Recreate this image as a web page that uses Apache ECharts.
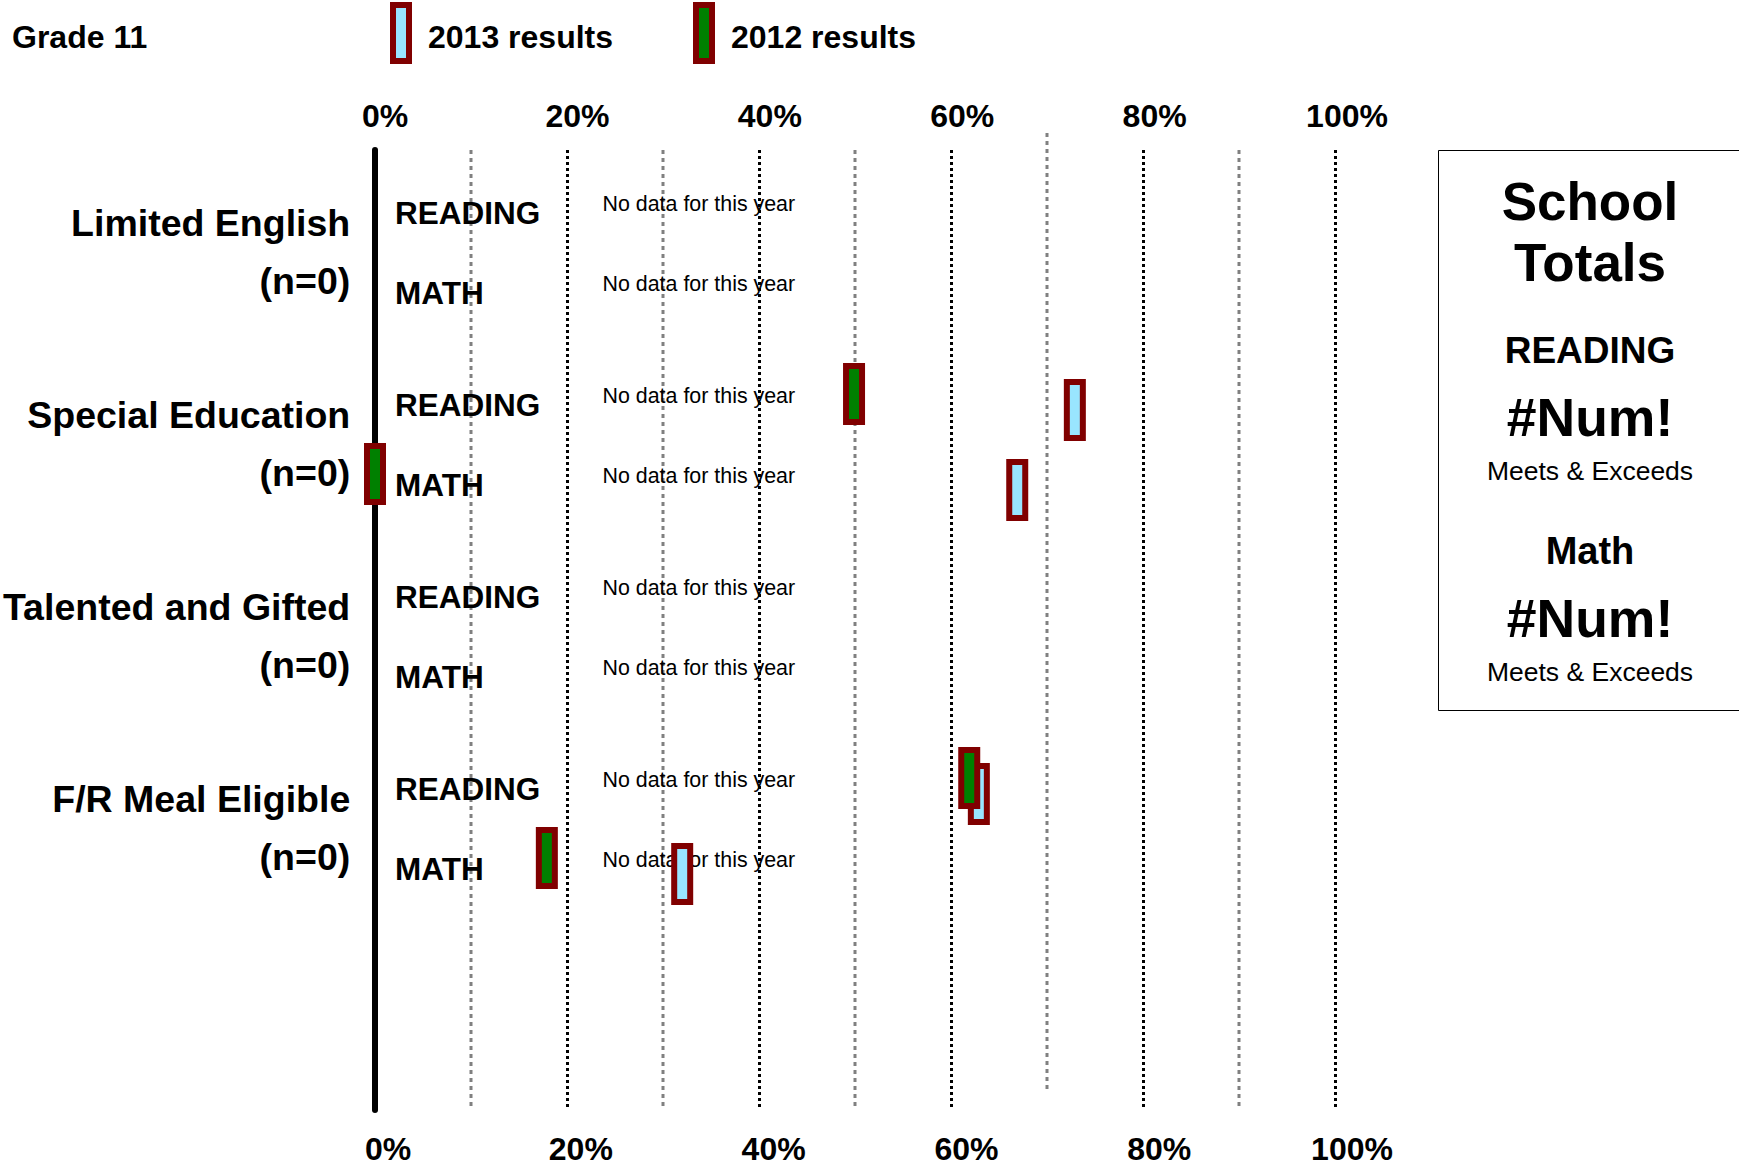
<!DOCTYPE html>
<html>
<head>
<meta charset="utf-8">
<script src="https://cdn.jsdelivr.net/npm/echarts@6/dist/echarts.min.js"></script>
<style>
html,body{margin:0;padding:0;background:#fff;}
#chart{width:1739px;height:1167px;}
</style>
</head>
<body>
<div id="chart"></div>
<script>
// ---------- data ----------
const chartTitle = 'Grade 11';
const groups = ['Limited English', 'Special Education', 'Talented and Gifted', 'F/R Meal Eligible'];
const groupCounts = ['(n=0)', '(n=0)', '(n=0)', '(n=0)'];
const subjects = ['READING', 'MATH'];
const noDataText = 'No data for this year';
const xTicks = [0, 20, 40, 60, 80, 100];
// percent meets & exceeds; null = no mark
const reading2013 = [null, 72.9, null, 62.9];
const math2013    = [null, 66.9, null, 32.0];
const reading2012 = [null, 49.9, null, 61.9];
const math2012    = [null, 0.0,  null, 17.9];
const minorLines = [10, 30, 50, 90];
const minorLinesShifted = [70];
const totalsTitle = ['School', 'Totals'];
const totalsReading = '#Num!';
const totalsMath = '#Num!';

// ---------- build ----------
const FONT = '"Liberation Sans", Arial, Helvetica, sans-serif';
const DARK_RED = '#800000';
const BLUE = '#99e5ff';
const GREEN = '#008000';

const yCats = groups.map((g, i) => g + '\n' + groupCounts[i]).concat(['']);

function markData(readArr, mathArr) {
  const out = [];
  groups.forEach((g, gi) => {
    if (readArr[gi] != null) out.push([readArr[gi], gi, 0]);
    if (mathArr[gi] != null) out.push([mathArr[gi], gi, 1]);
  });
  return out;
}
const rowData = [];
groups.forEach((g, gi) => subjects.forEach((s, si) => rowData.push([0, gi, si])));

// offsets inside a band (fraction of band height)
const SUBJ_OFF = [-36 / 192, 44 / 192];
const SUBJ_LABEL_OFF = [-33 / 192, 47 / 192];
const NODATA_OFF = [-42 / 192, 38 / 192];

function markerRenderer(fill, yearOff) {
  return function (params, api) {
    const v = api.value(0), gi = api.value(1), si = api.value(2);
    const p = api.coord([v, gi]);
    const band = api.size([0, 1])[1];
    const cy = p[1] + SUBJ_OFF[si] * band + yearOff;
    return {
      type: 'rect',
      shape: { x: p[0] - 8, y: cy - 28, width: 16, height: 56 },
      style: { fill: fill, stroke: DARK_RED, lineWidth: 6 }
    };
  };
}

function lineRenderer() {
  return function (params, api) {
    const x = api.coord([api.value(0), 0])[0];
    const cs = params.coordSys;
    return {
      type: 'line',
      shape: { x1: x, y1: cs.y, x2: x, y2: cs.y + cs.height },
      style: { stroke: '#808080', lineWidth: 3, lineDash: [4, 4] }
    };
  };
}

const legendText = {
  fontFamily: FONT, fontSize: 32, fontWeight: 'bold', color: '#000', padding: [0, 0, 0, 14],
  rich: {
    s: { fontSize: 1, lineHeight: 7 },
    a: { fontFamily: FONT, fontSize: 32, fontWeight: 'bold', color: '#000', lineHeight: 37 }
  }
};

const chart = echarts.init(document.getElementById('chart'), null, { renderer: 'svg' });
const option = {
  animation: false,
  backgroundColor: '#fff',
  textStyle: { fontFamily: FONT },
  title: {
    text: chartTitle, left: 12, top: 21, padding: 0,
    textStyle: { fontFamily: FONT, fontSize: 32, fontWeight: 'bold', color: '#000' }
  },
  legend: [
    {
      left: 390, top: 2, padding: 0, itemWidth: 16, itemHeight: 56, selectedMode: false,
      data: [{ name: '2013 results', icon: 'rect', itemStyle: { color: BLUE, borderColor: DARK_RED, borderWidth: 6 } }],
      formatter: '{s| }\n{a|{name}}',
      textStyle: legendText
    },
    {
      left: 693, top: 2, padding: 0, itemWidth: 16, itemHeight: 56, selectedMode: false,
      data: [{ name: '2012 results', icon: 'rect', itemStyle: { color: GREEN, borderColor: DARK_RED, borderWidth: 6 } }],
      formatter: '{s| }\n{a|{name}}',
      textStyle: legendText
    }
  ],
  grid: [
    { left: 375, right: 404, top: 150, bottom: 57 },
    { left: 375, right: 404, top: 133, bottom: 77 },
    { left: 375, right: 404, top: 156, bottom: 51 },
    { left: 385, right: 392, top: 150, bottom: 57 },
    { left: 388, right: 387, top: 150, bottom: 57 }
  ],
  xAxis: [
    {
      type: 'value', gridIndex: 0, position: 'top', min: 0, max: 100, interval: 20,
      axisLine: { show: false }, axisTick: { show: false }, axisLabel: { show: false },
      splitLine: { show: true, lineStyle: { color: '#000', width: 3, type: [3, 3] } }
    },
    { type: 'value', gridIndex: 1, min: 0, max: 100, interval: 20, show: false },
    { type: 'value', gridIndex: 2, min: 0, max: 100, interval: 20, show: false },
    {
      type: 'value', gridIndex: 3, position: 'top', min: 0, max: 100, interval: 20,
      axisLine: { show: false }, axisTick: { show: false }, splitLine: { show: false },
      axisLabel: {
        formatter: '{value}%', fontFamily: FONT, fontSize: 32, fontWeight: 'bold', color: '#000',
        margin: 34, verticalAlign: 'middle'
      }
    },
    {
      type: 'value', gridIndex: 4, position: 'bottom', min: 0, max: 100, interval: 20,
      axisLine: { show: false }, axisTick: { show: false }, splitLine: { show: false },
      axisLabel: {
        formatter: '{value}%', fontFamily: FONT, fontSize: 32, fontWeight: 'bold', color: '#000',
        margin: 39, verticalAlign: 'middle'
      }
    }
  ],
  yAxis: [
    {
      type: 'category', gridIndex: 0, data: yCats, inverse: true,
      axisLine: { show: true, lineStyle: { color: '#000', width: 6 } },
      axisTick: { show: false },
      splitLine: { show: false },
      axisLabel: { show: false }
    },
    { type: 'category', gridIndex: 1, data: yCats, inverse: true, show: false },
    {
      type: 'category', gridIndex: 2, data: yCats, inverse: true,
      axisLine: { show: false }, axisTick: { show: false }, splitLine: { show: false },
      axisLabel: {
        fontFamily: FONT, fontSize: 37.5, fontWeight: 'bold', color: '#000', lineHeight: 58,
        margin: 27, align: 'right', verticalAlign: 'middle'
      }
    },
    { type: 'category', gridIndex: 3, data: yCats, inverse: true, show: false },
    { type: 'category', gridIndex: 4, data: yCats, inverse: true, show: false }
  ],
  graphic: [
    {
      type: 'rect', shape: { x: 1438.5, y: 150.5, width: 400, height: 560 },
      style: { fill: 'none', stroke: '#000', lineWidth: 1 }, silent: true
    },
    { type: 'text', x: 1590, y: 201, style: { text: totalsTitle[0], font: 'bold 53px ' + FONT, fill: '#000', textAlign: 'center', textVerticalAlign: 'middle' } },
    { type: 'text', x: 1590, y: 262, style: { text: totalsTitle[1], font: 'bold 53px ' + FONT, fill: '#000', textAlign: 'center', textVerticalAlign: 'middle' } },
    { type: 'text', x: 1590, y: 350, style: { text: 'READING', font: 'bold 37px ' + FONT, fill: '#000', textAlign: 'center', textVerticalAlign: 'middle' } },
    { type: 'text', x: 1590, y: 417, style: { text: totalsReading, font: 'bold 53.5px ' + FONT, fill: '#000', textAlign: 'center', textVerticalAlign: 'middle' } },
    { type: 'text', x: 1590, y: 471, style: { text: 'Meets & Exceeds', font: '26.5px ' + FONT, fill: '#000', textAlign: 'center', textVerticalAlign: 'middle' } },
    { type: 'text', x: 1590, y: 551, style: { text: 'Math', font: 'bold 38px ' + FONT, fill: '#000', textAlign: 'center', textVerticalAlign: 'middle' } },
    { type: 'text', x: 1590, y: 618, style: { text: totalsMath, font: 'bold 53.5px ' + FONT, fill: '#000', textAlign: 'center', textVerticalAlign: 'middle' } },
    { type: 'text', x: 1590, y: 672, style: { text: 'Meets & Exceeds', font: '26.5px ' + FONT, fill: '#000', textAlign: 'center', textVerticalAlign: 'middle' } }
  ],
  series: [
    {
      name: 'minorLines', type: 'custom', xAxisIndex: 0, yAxisIndex: 0, silent: true,
      data: minorLines.map(v => [v, 0]), encode: { x: 0, y: 1 },
      renderItem: lineRenderer()
    },
    {
      name: 'minorLinesShifted', type: 'custom', xAxisIndex: 1, yAxisIndex: 1, silent: true,
      data: minorLinesShifted.map(v => [v, 0]), encode: { x: 0, y: 1 },
      renderItem: lineRenderer()
    },
    {
      name: 'rowLabels', type: 'custom', xAxisIndex: 0, yAxisIndex: 0, silent: true,
      data: rowData, encode: { x: 0, y: 1 },
      renderItem: function (params, api) {
        const gi = api.value(1), si = api.value(2);
        const p0 = api.coord([0, gi]);
        const pN = api.coord([23.7, gi]);
        const band = api.size([0, 1])[1];
        return {
          type: 'group',
          children: [
            {
              type: 'text', x: p0[0] + 20, y: p0[1] + SUBJ_LABEL_OFF[si] * band,
              style: { text: subjects[si], font: 'bold 31.5px ' + FONT, fill: '#000', textAlign: 'left', textVerticalAlign: 'middle' }
            },
            {
              type: 'text', x: pN[0], y: pN[1] + NODATA_OFF[si] * band,
              style: { text: noDataText, font: '21.4px ' + FONT, fill: '#000', textAlign: 'left', textVerticalAlign: 'middle' }
            }
          ]
        };
      }
    },
    {
      name: '2013 results', type: 'custom', xAxisIndex: 0, yAxisIndex: 0,
      itemStyle: { color: BLUE },
      data: markData(reading2013, math2013), encode: { x: 0, y: 1 },
      renderItem: markerRenderer(BLUE, 8)
    },
    {
      name: '2012 results', type: 'custom', xAxisIndex: 0, yAxisIndex: 0,
      itemStyle: { color: GREEN },
      data: markData(reading2012, math2012), encode: { x: 0, y: 1 },
      renderItem: markerRenderer(GREEN, -8)
    }
  ]
};
chart.setOption(option);
</script>
</body>
</html>
